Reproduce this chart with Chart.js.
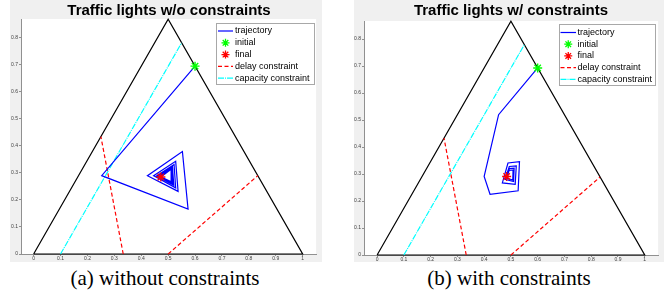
<!DOCTYPE html>
<html>
<head>
<meta charset="utf-8">
<script src="https://cdn.jsdelivr.net/npm/chart.js@4/dist/chart.umd.min.js"></script>
<style>
body { margin: 0; width: 668px; height: 305px; background: #fff; position: relative; overflow: hidden; }
.painel { position: absolute; top: 0; height: 262px; background: #f0f0f0; }
.titulo { position: absolute; width: 300px; text-align: center; white-space: nowrap;
  font: bold 15px "Liberation Sans", Arial, sans-serif; line-height: 15px; color: #000; }
.rodape { position: absolute; width: 300px; text-align: center; white-space: nowrap;
  font: 21px "Liberation Serif", "Times New Roman", serif; line-height: 21px; color: #000; }
</style>
</head>
<body>
<div class="painel" style="left:10px;width:312px"><canvas id="semRestricoes" width="312" height="262"></canvas></div>
<div class="painel" style="left:354px;width:310px"><canvas id="comRestricoes" width="310" height="262"></canvas></div>
<div class="titulo" style="left:19px;top:2px">Traffic lights w/o constraints</div>
<div class="titulo" style="left:361px;top:2px">Traffic lights w/ constraints</div>
<div class="rodape" style="left:15px;top:268px">(a) without constraints</div>
<div class="rodape" style="left:359px;top:268px">(b) with constraints</div>
<script>
// simplex (triangulo)
const trianguloX = [0, 0.5, 1, 0];
const trianguloY = [0, 0.866, 0, 0];

// trajetoria sem restricoes
const trajSemX = [0.600, 0.253, 0.574, 0.553, 0.423, 0.537, 0.528, 0.446, 0.528, 0.522, 0.457, 0.521, 0.516, 0.463, 0.517, 0.513, 0.467, 0.515, 0.512, 0.470, 0.514, 0.511, 0.472, 0.513, 0.511, 0.473];
const trajSemY = [0.693, 0.289, 0.166, 0.378, 0.289, 0.231, 0.342, 0.289, 0.244, 0.330, 0.288, 0.254, 0.322, 0.287, 0.260, 0.318, 0.286, 0.263, 0.316, 0.285, 0.265, 0.314, 0.285, 0.266, 0.313, 0.284];

// trajetoria com restricoes
const trajComX = [0.600, 0.454, 0.400, 0.422, 0.527, 0.532, 0.489, 0.468, 0.516, 0.520, 0.494, 0.478, 0.510, 0.512, 0.494, 0.484, 0.507, 0.508, 0.493, 0.486, 0.484];
const trajComY = [0.693, 0.520, 0.291, 0.225, 0.238, 0.346, 0.341, 0.267, 0.262, 0.330, 0.328, 0.280, 0.272, 0.322, 0.320, 0.285, 0.278, 0.315, 0.313, 0.290, 0.291];

// pontos inicial e final
const inicialX = [0.600];
const inicialY = [0.693];
const finalSemX = [0.473];
const finalSemY = [0.284];
const finalComX = [0.484];
const finalComY = [0.291];

// restricoes
const atraso1X = [0.333, 0.25];
const atraso1Y = [0, 0.433];
const atraso2X = [0.5, 0.833];
const atraso2Y = [0, 0.289];
const capacidadeX = [0.1, 0.55];
const capacidadeY = [0, 0.779];

// eixos
const ticksX = [0, 0.1, 0.2, 0.3, 0.4, 0.5, 0.6, 0.7, 0.8, 0.9, 1];
const rotulosX = ['0', '0.1', '0.2', '0.3', '0.4', '0.5', '0.6', '0.7', '0.8', '0.9', '1'];
const ticksY = [0, 0.1, 0.2, 0.3, 0.4, 0.5, 0.6, 0.7, 0.8];
const rotulosY = ['0', '0.1', '0.2', '0.3', '0.4', '0.5', '0.6', '0.7', '0.8'];

const rotulosLegenda = ['trajectory', 'initial', 'final', 'delay constraint', 'capacity constraint'];

const tracoAtraso = [4, 2.5];
const tracoCapacidade = [6, 1, 1, 1];

function pontos(xs, ys) {
    return xs.map((x, i) => ({ x: x, y: ys[i] }));
}

function desenhaEstrela(ctx, x, y, r, cor) {
    ctx.strokeStyle = cor;
    ctx.lineWidth = 1.3;
    ctx.setLineDash([]);
    ctx.beginPath();
    ctx.moveTo(x - r, y); ctx.lineTo(x + r, y);
    ctx.moveTo(x, y - r); ctx.lineTo(x, y + r);
    let d = r * 0.7;
    ctx.moveTo(x - d, y - d); ctx.lineTo(x + d, y + d);
    ctx.moveTo(x - d, y + d); ctx.lineTo(x + d, y - d);
    ctx.stroke();
}

const fundoBranco = {
    id: 'fundoBranco',
    beforeDraw(chart) {
        const a = chart.chartArea;
        chart.ctx.save();
        chart.ctx.fillStyle = '#fff';
        chart.ctx.fillRect(a.left, a.top, a.right - a.left, a.bottom - a.top);
        chart.ctx.restore();
    }
};

const legendaCaixa = {
    id: 'legendaCaixa',
    afterDatasetsDraw(chart, args, op) {
        const ctx = chart.ctx;
        ctx.save();
        ctx.fillStyle = '#fff';
        ctx.fillRect(op.x, op.y, op.w, op.h);
        ctx.strokeStyle = '#a8a8a8';
        ctx.lineWidth = 1;
        ctx.strokeRect(op.x + 0.5, op.y + 0.5, op.w, op.h);
        ctx.font = '9px "Liberation Sans", Arial, sans-serif';
        ctx.textBaseline = 'middle';
        rotulosLegenda.forEach((txt, i) => {
            let y = op.y + op.topo + i * op.passo;
            let meio = (op.x1 + op.x2) / 2;
            if (i == 1) {
                desenhaEstrela(ctx, meio, y, 4, '#00ff00');
            } else if (i == 2) {
                desenhaEstrela(ctx, meio, y, 4, '#ff0000');
            } else {
                ctx.beginPath();
                ctx.lineWidth = 1.2;
                if (i == 0) { ctx.strokeStyle = '#0000ff'; ctx.setLineDash([]); }
                if (i == 3) { ctx.strokeStyle = '#ff0000'; ctx.setLineDash(tracoAtraso); }
                if (i == 4) { ctx.strokeStyle = '#00ffff'; ctx.setLineDash(tracoCapacidade); }
                ctx.moveTo(op.x1, y);
                ctx.lineTo(op.x2, y);
                ctx.stroke();
            }
            ctx.setLineDash([]);
            ctx.fillStyle = '#000';
            ctx.fillText(txt, op.xTexto, y);
        });
        ctx.restore();
    }
};

function linha(dados, cor, tracos) {
    return {
        data: dados,
        showLine: true,
        borderColor: cor,
        borderWidth: 1.2,
        borderDash: tracos,
        pointRadius: 0,
        fill: false,
        tension: 0
    };
}

function criarGrafico(id, trajX, trajY, finX, finY, cfg) {
    const ctx = document.getElementById(id).getContext('2d');
    return new Chart(ctx, {
        type: 'scatter',
        data: {
            datasets: [
                {
                    data: pontos(finX, finY), pointStyle: 'star', pointRadius: 4.5,
                    borderColor: '#ff0000', backgroundColor: '#ff0000', borderWidth: 1.4
                },
                {
                    data: pontos(inicialX, inicialY), pointStyle: 'star', pointRadius: 4.5,
                    borderColor: '#00ff00', backgroundColor: '#00ff00', borderWidth: 1.4
                },
                linha(pontos(trajX, trajY), '#0000ff', []),
                linha(pontos(capacidadeX, capacidadeY), '#00ffff', tracoCapacidade),
                linha(pontos(atraso1X, atraso1Y), '#ff0000', tracoAtraso),
                linha(pontos(atraso2X, atraso2Y), '#ff0000', tracoAtraso),
                linha(pontos(trianguloX, trianguloY), '#000000', [])
            ]
        },
        options: {
            responsive: false,
            animation: false,
            events: [],
            devicePixelRatio: 1,
            clip: false,
            layout: { padding: { top: cfg.topo, right: cfg.direita, left: 0, bottom: 0 } },
            plugins: {
                legend: { display: false },
                tooltip: { enabled: false },
                legendaCaixa: cfg.legenda
            },
            scales: {
                x: {
                    type: 'linear', min: cfg.xMin, max: 1.05,
                    afterBuildTicks: s => { s.ticks = ticksX.map(v => ({ value: v })); },
                    afterFit: s => { s.height = cfg.alturaX; },
                    ticks: {
                        autoSkip: false, maxRotation: 0, padding: 0,
                        font: { size: 5, family: '"Liberation Sans", Arial' }, color: '#404040',
                        callback: (v, i) => rotulosX[i]
                    },
                    grid: { drawOnChartArea: false, tickLength: 2, tickColor: '#909090' },
                    border: { color: '#909090' }
                },
                y: {
                    type: 'linear', min: 0, max: 0.867,
                    afterBuildTicks: s => { s.ticks = ticksY.map(v => ({ value: v })); },
                    afterFit: s => { s.width = cfg.larguraY; },
                    ticks: {
                        autoSkip: false, padding: 1,
                        font: { size: 5, family: '"Liberation Sans", Arial' }, color: '#404040',
                        callback: (v, i) => rotulosY[i]
                    },
                    grid: { drawOnChartArea: false, tickLength: 2, tickColor: '#909090' },
                    border: { color: '#909090' }
                }
            }
        },
        plugins: [fundoBranco, legendaCaixa]
    });
}

criarGrafico('semRestricoes', trajSemX, trajSemY, finalSemX, finalSemY, {
    topo: 19, direita: 5, larguraY: 11, alturaX: 8, xMin: -0.047,
    legenda: { x: 206, y: 23, w: 98, h: 61, topo: 8, passo: 11.8, x1: 208, x2: 223, xTexto: 225 }
});

criarGrafico('comRestricoes', trajComX, trajComY, finalComX, finalComY, {
    topo: 21, direita: 4, larguraY: 10, alturaX: 7, xMin: -0.049,
    legenda: { x: 205, y: 24, w: 96, h: 61, topo: 8.5, passo: 11.7, x1: 206.5, x2: 222, xTexto: 223.5 }
});
</script>
</body>
</html>
